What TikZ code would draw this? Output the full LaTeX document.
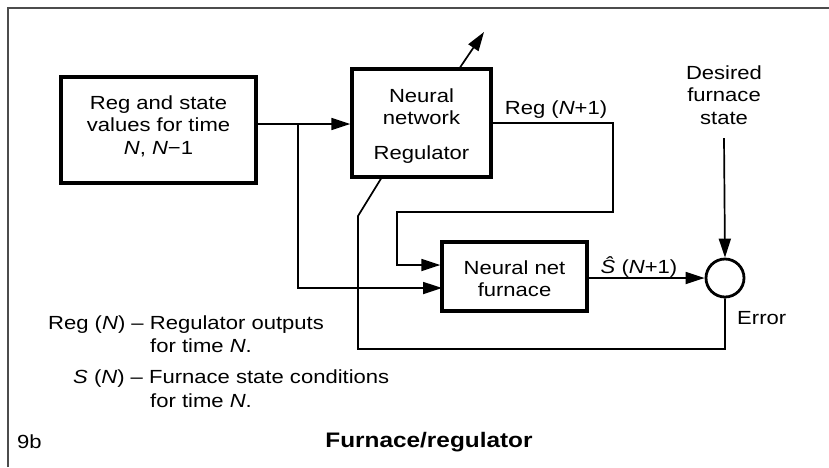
\documentclass[tikz,border=0pt]{standalone}
\usepackage{fontspec}
\setmainfont{Liberation Sans}[FakeStretch=1.16]
\usetikzlibrary{arrows.meta}
\newcommand{\mlines}[1]{\begin{tabular}[t]{@{}c@{}}#1\end{tabular}}
\begin{document}
\begin{tikzpicture}[x=1pt,y=-1pt,
  box/.style={draw, line width=3.3pt, inner sep=0pt},
  conn/.style={line width=1.7pt},
  arr/.style={conn, -{Triangle[length=19pt,width=12pt]}},
  txt/.style={inner sep=0pt, anchor=base, font=\fontsize{19}{22.5}\selectfont},
  ltxt/.style={txt, anchor=base west},
  frame/.style={draw=black!70, line width=1.3pt}]
\useasboundingbox (0,0) rectangle (829,467);
% frame (cropped)
\draw[frame] (8,467) -- (8,8) -- (829,8);
% boxes
\node[box, minimum width=195pt, minimum height=106pt] (b1) at (158.5,130) {};
\node[txt] (b1t) at (158.5,109) {\mlines{Reg and state\\values for time\\\textit{N}, \textit{N}−1}};
\node[box, minimum width=139pt, minimum height=108pt] (b2) at (421.5,123) {};
\node[txt] (b2t) at (421.5,102) {\mlines{Neural\\network\\[12.5pt]Regulator}};
\node[box, minimum width=145pt, minimum height=69pt] (b3) at (514.5,276.5) {};
\node[txt] (b3t) at (514.5,274) {\mlines{Neural net\\furnace}};
\node[draw, circle, line width=2.8pt, minimum size=38pt, inner sep=0pt] (c) at (725,278) {};
\node[txt] (d) at (724,79) {\mlines{Desired\\furnace\\state}};
% coordinates
\coordinate (j1) at (298,124);
\coordinate (r1) at (613,123);
\coordinate (r2) at (613,212);
\coordinate (r3) at (397,212);
\coordinate (r4) at (397,265);
\coordinate (i2) at (442,288);
\coordinate (e3) at (358,349);
\coordinate (e1) at (358,216);
\coordinate (e2) at (382,177);
\coordinate (o1) at (459,69);
\coordinate (o2) at (484,32);
\coordinate (dt) at (724,138);
% connectors
\draw[arr] (b1.east |- j1) -- (b2.west |- j1);
\draw[arr] (j1) |- (i2);
\draw[arr] (b2.east |- r1) -- (r1) -- (r2) -- (r3) -- (r4) -- (b3.west |- r4);
\draw[arr] (b3.east |- c.west) -- (c.west);
\draw[arr] (dt) -- (c.north);
\draw[conn] (c.south) |- (e3) -- (e1) -- (e2);
\draw[arr] (o1) -- (o2);
% labels
\node[txt] (lreg) at (556,114) {Reg (\textit{N}+1)};
\node[txt] (lshat) at (639,273) {\textit{Ŝ} (\textit{N}+1)};
\node[ltxt] (lerr) at (737,324) {Error};
\node[ltxt] (leg1) at (48,329) {Reg (\textit{N}) – Regulator outputs};
\node[ltxt] (leg2) at (150,352) {for time \textit{N}.};
\node[ltxt] (leg3) at (73,383) {\textit{S} (\textit{N}) – Furnace state conditions};
\node[ltxt] (leg4) at (150,407) {for time \textit{N}.};
\node[ltxt] (fig) at (17,448) {9b};
\node[txt, font=\fontsize{21}{24}\selectfont\bfseries] (title) at (429,447) {Furnace/regulator};
\end{tikzpicture}
\end{document}
